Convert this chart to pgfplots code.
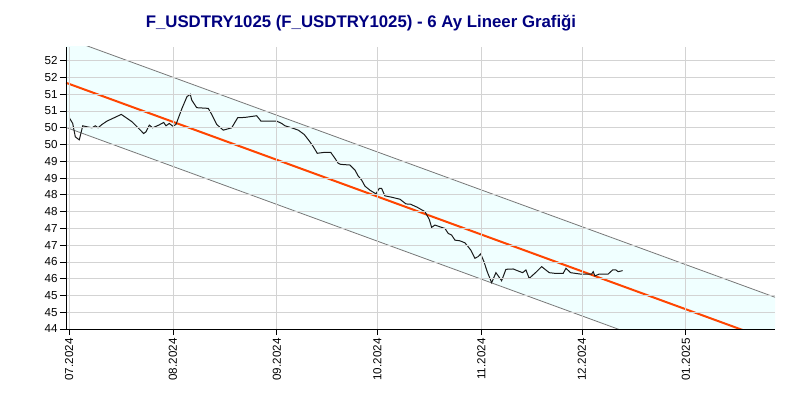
\documentclass[border=0pt]{standalone}
\usepackage{pgfplots}
\pgfplotsset{compat=1.18}
\usepackage{fontspec}
\setmainfont{Liberation Sans}
\definecolor{bandfill}{RGB}{240,255,255}
\definecolor{regred}{RGB}{255,69,0}
\definecolor{bandgray}{RGB}{120,120,120}
\definecolor{titlenavy}{RGB}{0,0,128}
\definecolor{gridgray}{RGB}{211,211,211}
\begin{document}
\begin{tikzpicture}
\begin{axis}[
  scale only axis,
  width=709bp, height=282bp,
  at={(0,0)}, anchor=south west,
  xmin=-0.9, xmax=210.6,
  ymin=44, ymax=52.41,
  axis lines=left,
  axis line style={-, black, line width=0.9bp},
  every outer x axis line/.append style={-},
  every outer y axis line/.append style={-},
  xtick={0,31,62,92,123,153,184},
  xticklabels={07.2024,08.2024,09.2024,10.2024,11.2024,12.2024,01.2025},
  ytick={44,44.5,...,52},
  yticklabels={44,45,45,46,46,47,47,48,48,49,49,50,50,51,51,52,52},
  tick align=outside,
  major tick length=6bp,
  tick style={black, line width=0.8bp},
  xmajorgrids, ymajorgrids,
  major grid style={draw=gridgray, line width=0.8bp},
  ticklabel style={font=\fontsize{11.6bp}{13bp}\selectfont},
  yticklabel style={xshift=1bp},
  xticklabel style={rotate=90, anchor=east},
  axis on top,
]
\addplot[fill=bandfill, draw=none] coordinates {(-0.9,52.673) (210.6,44.947) (210.6,42.287) (-0.9,50.013) (-0.9,52.673)};
\addplot[bandgray, line width=0.8bp] coordinates {(-0.9,52.673) (210.6,44.947)};
\addplot[bandgray, line width=0.8bp] coordinates {(-0.9,50.013) (210.6,42.287)};
\addplot[regred, line width=2bp] coordinates {(-0.9,51.343) (210.6,43.617)};
\addplot[black!90, line width=1bp] coordinates {
(0.09,50.30) (1.10,50.13) (1.88,49.73) (3.07,49.64) (4.09,50.06) (5.37,50.03)
(6.86,50.00) (7.84,50.06) (8.65,50.00) (9.84,50.10) (11.33,50.20) (15.60,50.40)
(18.79,50.18) (22.28,49.83) (22.96,49.88) (23.95,50.08) (24.96,50.00) (26.75,50.08)
(28.24,50.16) (28.93,50.06) (29.91,50.13) (30.93,50.05) (31.91,50.10) (33.70,50.58)
(35.19,50.93) (36.18,51.00) (36.59,50.83) (38.09,50.60) (41.54,50.58) (42.56,50.40)
(44.05,50.10) (46.02,49.93) (48.52,50.00) (50.31,50.30) (52.49,50.31) (55.98,50.36)
(57.26,50.20) (61.95,50.20) (63.44,50.13) (64.42,50.06) (66.42,50.00) (68.39,49.93)
(70.18,49.80) (71.88,49.58) (72.86,49.44) (74.05,49.24) (76.35,49.27) (78.05,49.27)
(79.33,49.09) (80.32,48.94) (81.03,48.91) (83.81,48.89) (85.30,48.74) (86.28,48.56)
(87.30,48.44) (88.28,48.26) (89.77,48.14) (91.56,48.03) (92.54,48.19) (93.26,48.19)
(94.24,47.97) (96.24,47.93) (98.72,47.87) (100.51,47.73) (101.91,47.72) (103.88,47.63)
(106.17,47.50) (107.46,47.27) (108.17,47.03) (109.16,47.10) (111.15,47.03) (112.14,47.00)
(113.12,46.85) (114.14,46.80) (115.12,46.65) (116.61,46.63) (118.10,46.57) (119.09,46.45)
(119.80,46.36) (121.08,46.11) (122.07,46.16) (122.79,46.24) (123.77,46.01) (124.75,45.71)
(126.07,45.38) (127.35,45.68) (129.05,45.44) (130.33,45.78) (132.51,45.79) (134.00,45.73)
(135.31,45.68) (136.30,45.76) (137.28,45.51) (139.49,45.71) (140.98,45.86) (143.25,45.68)
(144.94,45.66) (147.42,45.66) (148.23,45.81) (149.63,45.68) (152.40,45.64) (155.89,45.64)
(156.37,45.71) (156.88,45.58) (158.16,45.64) (160.84,45.64) (162.15,45.76) (163.14,45.76)
(163.82,45.71) (165.14,45.74)
};
\end{axis}
\node[anchor=base, text=titlenavy, font=\bfseries\fontsize{16.8bp}{19bp}\selectfont] at (295bp,301.7bp) {F\_USDTRY1025 (F\_USDTRY1025) - 6 Ay Lineer Grafiği};
\path (-66bp,-71bp) rectangle (734bp,329bp);
\end{tikzpicture}
\end{document}
